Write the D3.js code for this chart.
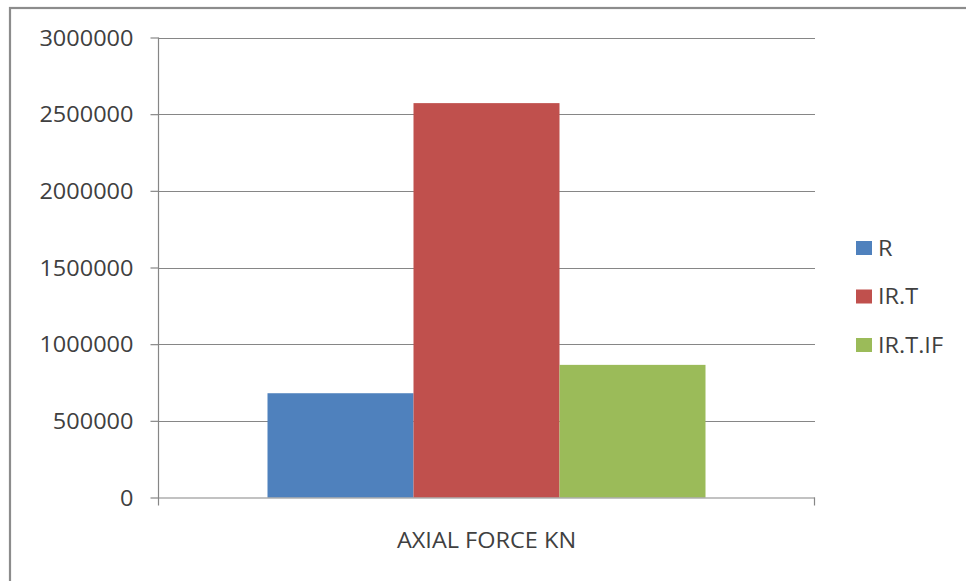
<!DOCTYPE html>
<html>
<head>
<meta charset="utf-8">
<script src="https://cdn.jsdelivr.net/npm/d3@7"></script>
<style>
  html, body { margin: 0; padding: 0; background: #fff; }
  svg { display: block; }
  text { font-family: "Open Sans", "Noto Sans", sans-serif; fill: #404040; }
</style>
</head>
<body>
<svg id="chart" width="966" height="581"></svg>
<script>
// Axial force per model, single category group
const categories = ["AXIAL FORCE KN"];
const seriesNames = ["R", "IR.T", "IR.T.IF"];
const seriesValues = [680000, 2572000, 865000];
const seriesColors = ["#4F81BD", "#C0504D", "#9BBB59"];
const yTicks = [0, 500000, 1000000, 1500000, 2000000, 2500000, 3000000];

const svg = d3.select("#chart");
const W = 966, H = 581;
const plot = { left: 158, right: 815, top: 37.5, bottom: 497.5 };
const sx = 1.12; // wide lettering
const fontSize = 21;

// outer chart frame
svg.append("rect")
  .attr("x", 10).attr("y", 8)
  .attr("width", W + 20).attr("height", H + 20)
  .attr("fill", "none").attr("stroke", "#8c8c8c").attr("stroke-width", 2.2);

const y = d3.scaleLinear().domain([0, 3000000]).range([plot.bottom, plot.top]);
const x0 = d3.scaleBand().domain(categories).range([plot.left, plot.right])
  .paddingInner(0).paddingOuter(0);
// 150% gap width: bar width w, group = 3w, gap 1.5w split on both sides
const groupWidth = x0.bandwidth() * 3 / 4.5;
const x1 = d3.scaleBand().domain(seriesNames)
  .range([0, groupWidth]).padding(0);

// gridlines
svg.append("g").selectAll("line")
  .data(yTicks.filter(d => d > 0))
  .join("line")
  .attr("x1", plot.left).attr("x2", plot.right)
  .attr("y1", d => Math.round(y(d)) + 0.5).attr("y2", d => Math.round(y(d)) + 0.5)
  .attr("stroke", "#868686").attr("stroke-width", 1.2);

// bars
const groups = svg.append("g").selectAll("g")
  .data(categories)
  .join("g")
  .attr("transform", d => `translate(${x0(d) + (x0.bandwidth() - groupWidth) / 2},0)`);

groups.selectAll("rect")
  .data(() => seriesNames.map((s, i) => ({ s, v: seriesValues[i], c: seriesColors[i] })))
  .join("rect")
  .attr("x", d => x1(d.s))
  .attr("width", x1.bandwidth())
  .attr("y", d => y(d.v))
  .attr("height", d => y(0) - y(d.v))
  .attr("fill", d => d.c);

// y axis
const yAxis = d3.axisLeft(y).tickValues(yTicks).tickSize(8).tickPadding(0)
  .tickFormat(d3.format("d"));
const gy = svg.append("g").attr("transform", `translate(${plot.left + 0.5},0)`).call(yAxis);
gy.select(".domain").remove();
gy.selectAll(".tick line").attr("stroke", "#868686").attr("stroke-width", 1.2);
gy.selectAll(".tick text").remove();
gy.selectAll(".tick").append("g")
  .attr("transform", "translate(-25,0) scale(" + sx + ",1)")
  .append("text")
  .attr("text-anchor", "end")
  .attr("dy", "0.36em")
  .style("font-size", fontSize + "px")
  .text(d => d3.format("d")(d));

svg.append("line")
  .attr("x1", plot.left + 0.5).attr("x2", plot.left + 0.5)
  .attr("y1", plot.top).attr("y2", plot.bottom + 8)
  .attr("stroke", "#868686").attr("stroke-width", 1.2);

// x axis
svg.append("line")
  .attr("x1", plot.left).attr("x2", plot.right)
  .attr("y1", plot.bottom + 0.5).attr("y2", plot.bottom + 0.5)
  .attr("stroke", "#868686").attr("stroke-width", 1.2);
svg.append("line")
  .attr("x1", plot.right - 0.5).attr("x2", plot.right - 0.5)
  .attr("y1", plot.bottom).attr("y2", plot.bottom + 8)
  .attr("stroke", "#868686").attr("stroke-width", 1.2);

svg.append("g").selectAll("g")
  .data(categories)
  .join("g")
  .attr("transform", d => `translate(${x0(d) + x0.bandwidth() / 2},548) scale(${sx},1)`)
  .append("text")
  .attr("text-anchor", "middle")
  .style("font-size", fontSize + "px")
  .text(d => d);

// legend
const legend = svg.append("g").attr("transform", "translate(856,248)");
const items = legend.selectAll("g")
  .data(seriesNames.map((s, i) => ({ s, c: seriesColors[i] })))
  .join("g")
  .attr("transform", (d, i) => `translate(0,${i * 48.5})`);
items.append("rect")
  .attr("x", 0).attr("y", -7).attr("width", 16).attr("height", 14)
  .attr("fill", d => d.c);
items.append("g")
  .attr("transform", `translate(22,0) scale(${sx},1)`)
  .append("text")
  .attr("dy", "0.36em")
  .style("font-size", fontSize + "px")
  .text(d => d.s);
</script>
</body>
</html>
